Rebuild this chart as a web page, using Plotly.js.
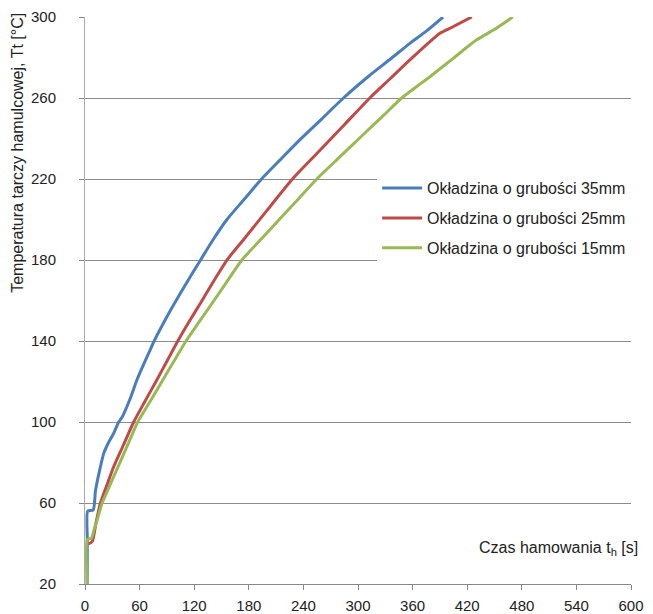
<!DOCTYPE html>
<html>
<head>
<meta charset="utf-8">
<script src="https://cdn.plot.ly/plotly-3.0.1.min.js"></script>
<style>html,body{margin:0;padding:0;background:#fff;}#chart{width:653px;height:614px;}</style>
</head>
<body>
<div id="chart"></div>
<script>
// Series names
const seriesNames = ["Okładzina o grubości 35mm", "Okładzina o grubości 25mm", "Okładzina o grubości 15mm"];
// Blue: 35 mm
const t35 = [2.4, 2.5, 3, 9, 11.5, 16, 20.6, 26, 31.6, 37, 41, 50, 57, 61, 70, 76, 90, 104, 116, 127, 140, 156, 175, 194, 215, 236, 260, 284, 311, 335, 357, 375, 393.5];
const T35 = [20, 42, 56, 56.5, 66, 76, 84.5, 90, 94.5, 100, 102.6, 112, 120.7, 125, 134, 140, 152, 163, 172, 180, 189.5, 200, 210, 220, 229.7, 239.3, 249.6, 260, 270.5, 279, 287, 293, 300];
// Red: 25 mm
const t25 = [4, 4.5, 8, 12, 17, 24, 31.6, 42, 53.5, 65, 78, 90, 102, 115, 128, 142, 156, 175, 200, 228, 255, 285, 313, 335, 357, 381, 390, 404.5, 425];
const T25 = [40, 40, 41, 50, 60, 68.7, 78, 88.4, 100, 109.5, 120, 130, 140, 150, 159.5, 170, 180, 190.5, 204.5, 220, 232.7, 246.8, 260, 269.4, 278.8, 288.6, 292, 295.2, 300];
// Green: 15 mm
const t15 = [2.4, 2.6, 7, 10, 13.4, 18.8, 25, 33, 45, 58, 70, 85, 98, 111, 126, 141, 156, 172.4, 195, 215, 235, 254.7, 280, 305, 328, 348, 365, 379, 405, 430, 452, 470];
const T15 = [20, 42, 42.5, 47, 51.6, 60, 66.3, 74.5, 86.7, 100, 109, 120.4, 130.2, 140, 149.8, 159.5, 169.3, 180, 191, 200.7, 210.4, 220, 230.9, 241.6, 251.4, 260, 265.8, 270.5, 279.7, 288.6, 294.4, 300];
const xTicks = [0, 60, 120, 180, 240, 300, 360, 420, 480, 540, 600];
const yTicks = [20, 60, 100, 140, 180, 220, 260, 300];
const colors = ["#4a7ebb", "#be4b48", "#98b954"];

const FONT = "Liberation Sans, Arial, sans-serif";
const xs = [t35, t25, t15], ys = [T35, T25, T15];
const traces = xs.map((x, i) => ({
  x: x, y: ys[i], type: "scatter", mode: "lines", name: seriesNames[i],
  legendgroup: "g" + i,
  line: {color: colors[i], width: 3, shape: "spline", smoothing: 0.6}
}));

const layout = {
  width: 653, height: 614,
  margin: {l: 84.5, r: 21.5, t: 17, b: 30},
  paper_bgcolor: "#fff", plot_bgcolor: "#fff",
  font: {family: FONT, size: 15, color: "#222"},
  showlegend: true,
  legend: {
    x: 0.535, xanchor: "left", y: 0.728, yanchor: "top",
    bgcolor: "#fff", borderwidth: 0, tracegroupgap: 6, itemwidth: 40,
    font: {family: FONT, size: 16, color: "#222"}
  },
  xaxis: {
    range: [0, 600], tickvals: xTicks, ticktext: xTicks.map(String),
    showgrid: false, zeroline: false, showline: true, linecolor: "#888", linewidth: 1,
    ticks: "outside", ticklen: 5, tickcolor: "#888", ticklabelstandoff: 3,
    tickfont: {family: FONT, size: 15, color: "#222"}
  },
  yaxis: {
    range: [20, 300], tickvals: yTicks, ticktext: yTicks.map(String),
    showgrid: true, gridcolor: "#8c8c8c", gridwidth: 1, zeroline: false,
    showline: true, linecolor: "#aaa", linewidth: 1,
    ticks: "outside", ticklen: 5, tickcolor: "#888", ticklabelstandoff: 20,
    tickfont: {family: FONT, size: 15, color: "#222"}
  },
  annotations: [{
    text: "Czas hamowania t<sub>h</sub> [s]", xref: "paper", yref: "paper",
    x: 1.016, y: 0.062, xanchor: "right", yanchor: "middle", showarrow: false,
    font: {family: FONT, size: 16, color: "#222"}
  }, {
    text: "Temperatura tarczy hamulcowej, Tt [°C]", xref: "paper", yref: "paper",
    x: -0.125, y: 0.76, xanchor: "center", yanchor: "middle", textangle: -90,
    showarrow: false, font: {family: FONT, size: 16, color: "#222"}
  }]
};
Plotly.newPlot("chart", traces, layout, {displayModeBar: false, staticPlot: true});
</script>
</body>
</html>
